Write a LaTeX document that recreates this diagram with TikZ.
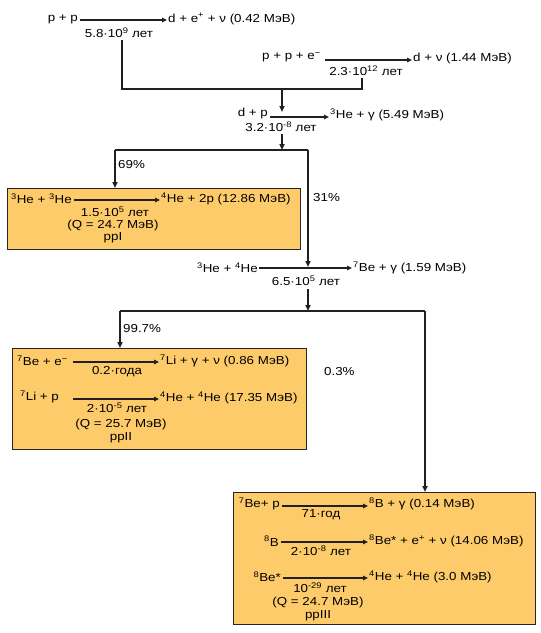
\documentclass[tikz,border=0pt]{standalone}
\usepackage{fontspec}
\setmainfont{Liberation Sans}[FakeStretch=1.15]
\usetikzlibrary{arrows.meta}
\definecolor{boxfill}{HTML}{FDCB69}
\definecolor{ink}{HTML}{202020}
\newcommand{\su}[1]{\textsuperscript{#1}}
\begin{document}
\begin{tikzpicture}[x=1pt,y=-1pt,
  txt/.style={inner sep=0pt, font=\fontsize{11.6}{13}\selectfont, text=black},
  rx/.style={draw=ink, line width=1.3pt, -{Triangle[length=5pt,width=4.5pt]}},
  ln/.style={draw=ink, line width=1.6pt},
  conn/.style={draw=ink, line width=1.6pt, -{Triangle[length=6pt,width=5pt]}},
  box/.style={draw=black!85, fill=boxfill, line width=0.8pt}]
\useasboundingbox (0,0) rectangle (541,633);

% boxes
\path[box] (7,188) rectangle (300,249);
\path[box] (12,348) rectangle (306,449);
\path[box] (233,492) rectangle (535,624);

% row 1
\node[txt, anchor=east] (r1l) at (78,19) {p + p};
\node[txt, anchor=west] (r1r) at (168,19) {d + e\su{+} + ν (0.42 МэВ)};
\coordinate (a1s) at (80,20); \coordinate (a1e) at (167,20);
\draw[rx] (a1s) -- (a1e);
\node[txt] (r1b) at (119,33) {5.8·10\su{9} лет};

% row 2
\node[txt, anchor=east] (r2l) at (321,57) {p + p + e\su{−}};
\node[txt, anchor=west] (r2r) at (413,58) {d + ν (1.44 МэВ)};
\coordinate (a2s) at (325,60); \coordinate (a2e) at (412,60);
\draw[rx] (a2s) -- (a2e);
\node[txt] (r2b) at (366,71) {2.3·10\su{12} лет};

% row 3
\node[txt, anchor=east] (r3l) at (268,113) {d + p};
\node[txt, anchor=west] (r3r) at (330,115) {\su{3}He + γ (5.49 МэВ)};
\coordinate (a3s) at (270,117); \coordinate (a3e) at (329,117);
\draw[rx] (a3s) -- (a3e);
\node[txt] (r3b) at (281,126.5) {3.2·10\su{-8} лет};

% ppI
\node[txt, anchor=east] (p1l) at (72,199) {\su{3}He + \su{3}He};
\node[txt, anchor=west] (p1r) at (161,199) {\su{4}He + 2p (12.86 МэВ)};
\coordinate (b1s) at (74,200); \coordinate (b1e) at (160,200);
\draw[rx] (b1s) -- (b1e);
\node[txt] (p1b) at (115,212) {1.5·10\su{5} лет};
\node[txt] (p1q) at (113,225) {(Q = 24.7 МэВ)};
\node[txt] (p1n) at (113,238) {ppI};

% row 4
\node[txt, anchor=east] (r4l) at (258,268) {\su{3}He + \su{4}He};
\node[txt, anchor=west] (r4r) at (353,268) {\su{7}Be + γ (1.59 МэВ)};
\coordinate (a4s) at (259,268); \coordinate (a4e) at (352,268);
\draw[rx] (a4s) -- (a4e);
\node[txt] (r4b) at (306,281) {6.5·10\su{5} лет};

% ppII
\node[txt, anchor=west] (q1l) at (17,361) {\su{7}Be + e\su{−}};
\node[txt, anchor=west] (q1r) at (160,361) {\su{7}Li + γ + ν (0.86 МэВ)};
\coordinate (c1s) at (73,362); \coordinate (c1e) at (159,362);
\draw[rx] (c1s) -- (c1e);
\node[txt] (q1b) at (117,372) {0.2·года};
\node[txt, anchor=west] (q2l) at (20,397) {\su{7}Li + p};
\node[txt, anchor=west] (q2r) at (160,398) {\su{4}He + \su{4}He (17.35 МэВ)};
\coordinate (c2s) at (73,399); \coordinate (c2e) at (159,399);
\draw[rx] (c2s) -- (c2e);
\node[txt] (q2b) at (117,408) {2·10\su{-5} лет};
\node[txt] (q2q) at (121,424) {(Q = 25.7 МэВ)};
\node[txt] (q2n) at (121,438) {ppII};

% ppIII
\node[txt, anchor=east] (s1l) at (280,504) {\su{7}Be+ p};
\node[txt, anchor=west] (s1r) at (369,504) {\su{8}B + γ (0.14 МэВ)};
\coordinate (d1s) at (282,506); \coordinate (d1e) at (368,506);
\draw[rx] (d1s) -- (d1e);
\node[txt] (s1b) at (321,515) {71·год};
\node[txt, anchor=east] (s2l) at (279,541) {\su{8}B};
\node[txt, anchor=west] (s2r) at (369,541) {\su{8}Be* + e\su{+} + ν (14.06 МэВ)};
\coordinate (d2s) at (281,542); \coordinate (d2e) at (368,542);
\draw[rx] (d2s) -- (d2e);
\node[txt] (s2b) at (321,551) {2·10\su{-8} лет};
\node[txt, anchor=east] (s3l) at (281,577) {\su{8}Be*};
\node[txt, anchor=west] (s3r) at (369,577) {\su{4}He + \su{4}He (3.0 МэВ)};
\coordinate (d3s) at (283,578); \coordinate (d3e) at (368,578);
\draw[rx] (d3s) -- (d3e);
\node[txt] (s3b) at (320,588) {10\su{-29} лет};
\node[txt] (s3q) at (318,602) {(Q = 24.7 МэВ)};
\node[txt] (s3n) at (318,616) {ppIII};

% percentages
\node[txt, anchor=west] (pc69) at (118,165) {69\%};
\node[txt, anchor=west] (pc31) at (313,198) {31\%};
\node[txt, anchor=west] (pc997) at (123,329) {99.7\%};
\node[txt, anchor=west] (pc03) at (324,372) {0.3\%};

% connectors
\coordinate (j1) at (122,89); \coordinate (j2) at (362,89); \coordinate (j3) at (282,89);
\draw[ln] (122,40) -- (j1) -- (j2) -- (362,78);
\draw[conn] (j3) -- (282,112);
\coordinate (k1) at (115,150); \coordinate (k2) at (308,150); \coordinate (k3) at (282,150);
\draw[conn] (282,134) -- (k3);
\draw[ln] (k1) -- (k2);
\draw[conn] (k1) -- (115,188);
\draw[conn] (k2) -- (308,267);
\coordinate (m1) at (120,311); \coordinate (m2) at (425,311); \coordinate (m3) at (308,311);
\draw[conn] (308,289) -- (m3);
\draw[ln] (m1) -- (m2);
\draw[conn] (m1) -- (120,348);
\draw[conn] (m2) -- (425,492);
\end{tikzpicture}
\end{document}
